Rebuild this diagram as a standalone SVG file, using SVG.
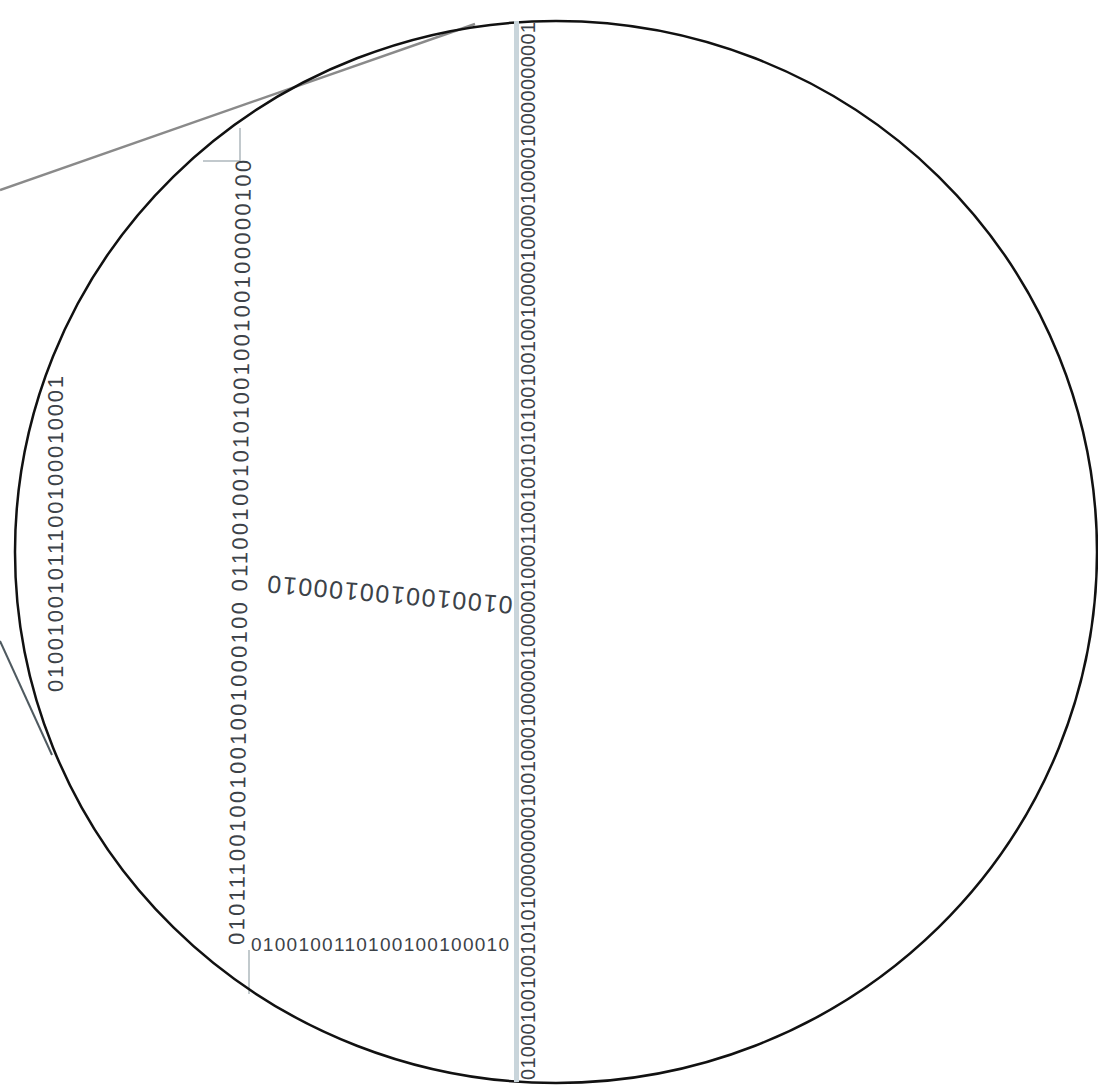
<svg xmlns="http://www.w3.org/2000/svg" width="1098" height="1087" viewBox="0 0 1098 1087">
<style>
.bin{font-family:"Liberation Sans","DejaVu Sans",sans-serif;fill:#3c4248}
.thin{stroke:#aeb8bd;stroke-width:1.5;fill:none}
</style>
<rect width="1098" height="1087" fill="#ffffff"/>
<g id="connectors">
<line x1="0" y1="190" x2="475" y2="24" stroke="#8a8a8a" stroke-width="2.5"/>
<line x1="0" y1="641" x2="52" y2="755" stroke="#4f5a60" stroke-width="2"/>
<polyline class="thin" points="203,161 240,161 240,128"/>
<line class="thin" x1="249" y1="950" x2="249" y2="994"/>
</g>
<g id="circle">
<ellipse cx="556" cy="552" rx="541" ry="531" fill="none" stroke="#111" stroke-width="2.5"/>
</g>
<g id="main-column">
<rect x="514" y="21" width="5" height="1061" fill="#c9d5db"/>
<text class="bin" transform="translate(535,1080) rotate(-90)" x="0" y="0" font-size="20" textLength="1058" lengthAdjust="spacing">010001001001010100000000100100010000010000010001100100101010010010010000100001000010000000001</text>
</g>
<g id="middle-column">
<text class="bin" transform="translate(244,945) rotate(-89.5)" x="0" y="0" font-size="22" textLength="785" lengthAdjust="spacing">010111001001001001000100 011001001010100100100100000100</text>
</g>
<g id="left-column">
<text class="bin" transform="translate(63,692) rotate(-90)" x="0" y="0" font-size="22" textLength="316" lengthAdjust="spacing">01001001011100100010001</text>
</g>
<g id="middle-row">
<text class="bin" transform="translate(390,595) rotate(185)" x="0" y="0" font-size="25" text-anchor="middle" dominant-baseline="central" textLength="246" lengthAdjust="spacing">0100100100100010</text>
</g>
<g id="bottom-row">
<text class="bin" x="251" y="951" font-size="19" textLength="258" lengthAdjust="spacing">0100100110100100100010</text>
</g>
</svg>
